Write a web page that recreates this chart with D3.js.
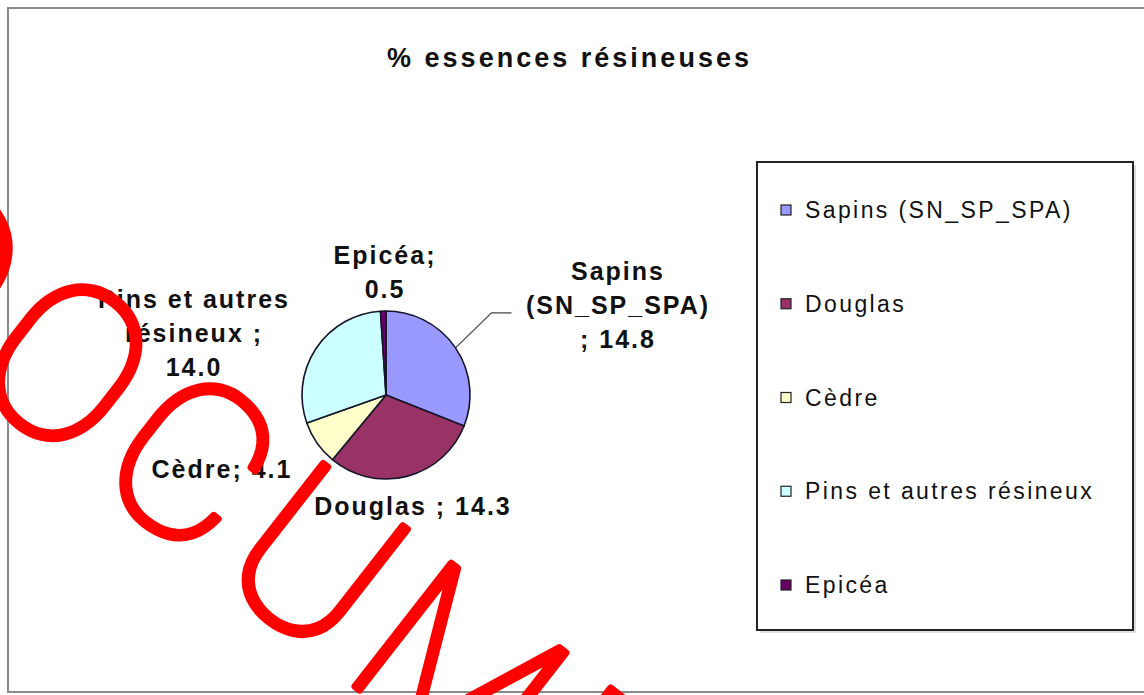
<!DOCTYPE html>
<html>
<head>
<meta charset="utf-8">
<script src="https://cdn.jsdelivr.net/npm/d3@7"></script>
<style>
  html, body { margin: 0; padding: 0; background: #fff; }
  svg { display: block; }
</style>
</head>
<body>
<svg id="chart" width="1144" height="695"></svg>
<script>
// ---- data ----
const title = "% essences résineuses";
const categories = ["Sapins (SN_SP_SPA)", "Douglas", "Cèdre", "Pins et autres résineux", "Epicéa"];
const values = [14.8, 14.3, 4.1, 14.0, 0.5];
const colors = ["#9999FF", "#993366", "#FFFFCC", "#CCFFFF", "#660066"];
// data label wrapping as shown in the chart ({v} = value)
const labelTemplates = [
  ["Sapins", "(SN_SP_SPA)", "; {v}"],
  ["Douglas ; {v}"],
  ["Cèdre; {v}"],
  ["Pins et autres", "résineux ;", "{v}"],
  ["Epicéa;", "{v}"]
];
const watermark = "DOCUMENT";

// ---- layout ----
const W = 1144, H = 695;
const cx = 386, cy = 395, R = 84;
const labelOffsets = [[231, -115], [26, 120], [-165, 83], [-193, -87], [-2, -131]];
const lineH = 34;

const svg = d3.select("#chart");

// outer frame
svg.append("rect").attr("x", 0).attr("y", 0).attr("width", W).attr("height", H).attr("fill", "#fff");
svg.append("rect").attr("x", 8).attr("y", 8).attr("width", W + 20).attr("height", 684)
  .attr("fill", "none").attr("stroke", "#8a8a8a").attr("stroke-width", 2);

// title
svg.append("text")
  .attr("x", 568).attr("y", 67)
  .attr("text-anchor", "middle")
  .attr("font-family", "'Liberation Sans', Arial, sans-serif")
  .attr("font-weight", "bold")
  .attr("font-size", 27)
  .attr("textLength", 362)
  .attr("lengthAdjust", "spacing")
  .attr("fill", "#111")
  .text(title);

// pie
const data = categories.map((c, i) => ({ cat: c, value: values[i], color: colors[i], i }));
const pie = d3.pie().value(d => d.value).sort(null);
const arcs = pie(data);
const arc = d3.arc().innerRadius(0).outerRadius(R);

const g = svg.append("g").attr("transform", `translate(${cx},${cy})`);
g.selectAll("path.slice").data(arcs).join("path")
  .attr("class", "slice")
  .attr("d", arc)
  .attr("fill", d => d.data.color)
  .attr("stroke", "#15152a")
  .attr("stroke-width", 1.6)
  .attr("stroke-linejoin", "round");

// leader line for Sapins label
const a0 = arcs[0];
const mid = (a0.startAngle + a0.endAngle) / 2;
const p0 = [Math.sin(mid) * R, -Math.cos(mid) * R];
const elbow = [p0[0] + 36, p0[1] - 35];
const pEnd = [elbow[0] + 20, elbow[1]];
g.append("polyline")
  .attr("points", [p0, elbow, pEnd].map(p => p.join(",")).join(" "))
  .attr("fill", "none").attr("stroke", "#444").attr("stroke-width", 1.2);

// data labels
const fmt = d3.format(".1f");
const lbl = g.selectAll("text.lbl").data(arcs).join("text")
  .attr("class", "lbl")
  .attr("text-anchor", "middle")
  .attr("font-family", "'Liberation Sans', Arial, sans-serif")
  .attr("font-weight", "bold")
  .attr("font-size", 25)
  .attr("letter-spacing", 2)
  .attr("fill", "#111");
lbl.each(function(d) {
  const i = d.data.i;
  const [ox, oy] = labelOffsets[i];
  const lines = labelTemplates[i].map(t => t.replace("{v}", fmt(d.data.value)));
  d3.select(this).selectAll("tspan").data(lines).join("tspan")
    .attr("x", ox + 1).attr("y", (t, k) => oy + k * lineH)
    .text(t => t);
});

// legend
const lg = svg.append("g");
lg.append("rect").attr("x", 760).attr("y", 165).attr("width", 376).attr("height", 468)
  .attr("fill", "#ddd").attr("stroke", "none");
lg.append("rect").attr("x", 757).attr("y", 162).attr("width", 376).attr("height", 468)
  .attr("fill", "#fff").attr("stroke", "#222").attr("stroke-width", 2);
const legendY = d3.scalePoint().domain(categories).range([210, 585]);
const items = lg.selectAll("g.item").data(data).join("g").attr("class", "item")
  .attr("transform", d => `translate(781,${legendY(d.cat)})`);
items.append("rect").attr("x", 0).attr("y", -5).attr("width", 10).attr("height", 10)
  .attr("fill", d => d.color).attr("stroke", "#222").attr("stroke-width", 1.2);
items.append("text").attr("x", 24).attr("y", 8)
  .attr("font-family", "'Liberation Sans', Arial, sans-serif")
  .attr("font-size", 23)
  .attr("letter-spacing", 2.4)
  .attr("fill", "#111")
  .text(d => d.cat);

// watermark (thin strokes thickened to a single line)
svg.append("text")
  .attr("transform", "translate(-163,282) rotate(38)")
  .attr("font-family", "Roboto, Lato, sans-serif")
  .attr("font-weight", 100)
  .attr("font-size", 220)
  .attr("letter-spacing", 14)
  .attr("fill", "#ff0000")
  .attr("stroke", "#ff0000")
  .attr("stroke-width", 7)
  .attr("stroke-linejoin", "round")
  .attr("stroke-linecap", "round")
  .text(watermark);
</script>
</body>
</html>
